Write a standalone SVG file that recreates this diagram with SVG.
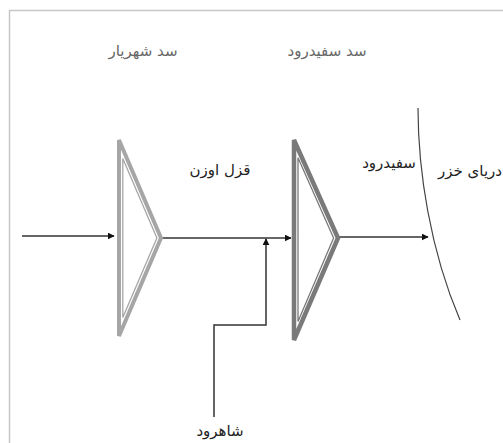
<svg xmlns="http://www.w3.org/2000/svg" width="503" height="443" viewBox="0 0 503 443">
<defs>
<style>
.lbl{font-family:"DejaVu Sans","Noto Sans",sans-serif;font-size:15px;fill:#222;text-anchor:middle}
.gl{fill:#666}
.ln{fill:none;stroke:#333;stroke-width:1.5}
</style>
<marker id="ah" viewBox="0 0 10 10" refX="9" refY="5" markerWidth="7" markerHeight="7" markerUnits="userSpaceOnUse" orient="auto"><path d="M0,0L10,5L0,10z" fill="#111"/></marker>
</defs>
<rect x="9.5" y="10.5" width="520" height="460" fill="#fff" stroke="#c8c8c8" stroke-width="1.5"/>
<g id="connectors">
<line class="ln" x1="22" y1="236" x2="114" y2="236" marker-end="url(#ah)"/>
<line class="ln" x1="162" y1="238" x2="291" y2="238" marker-end="url(#ah)"/>
<polyline class="ln" stroke="#555" points="214,417 214,325 266,325 266,239" marker-end="url(#ah)"/>
<line class="ln" x1="339" y1="237" x2="428" y2="237" marker-end="url(#ah)"/>
</g>
<g id="dam-shahriar">
<polygon points="119,140 119,336 161,238" fill="none" stroke="#a6a6a6" stroke-width="4"/>
<polygon points="122.8,158.5 122.8,317.5 156.9,238" fill="none" stroke="#a6a6a6" stroke-width="1.3"/>
<text class="lbl gl" x="143" y="56">سد شهریار</text>
</g>
<g id="dam-sefidrud">
<polygon points="294,140 294,340 338,238" fill="none" stroke="#7a7a7a" stroke-width="4.5"/>
<polygon points="298,157.7 298,321.6 333.6,238" fill="none" stroke="#7a7a7a" stroke-width="1.3"/>
<text class="lbl gl" x="327" y="56">سد سفیدرود</text>
</g>
<g id="qezel-ozan"><text class="lbl" x="220" y="175">قزل اوزن</text></g>
<g id="sefidrud"><text class="lbl" x="389" y="168">سفیدرود</text></g>
<g id="caspian">
<path d="M418,108 C418,170 430,250 460,320" fill="none" stroke="#444" stroke-width="1.2"/>
<text class="lbl" x="502" y="176" style="text-anchor:end">دریای خزر</text>
</g>
<g id="shahrood"><text class="lbl" x="220" y="436">شاهرود</text></g>
</svg>
